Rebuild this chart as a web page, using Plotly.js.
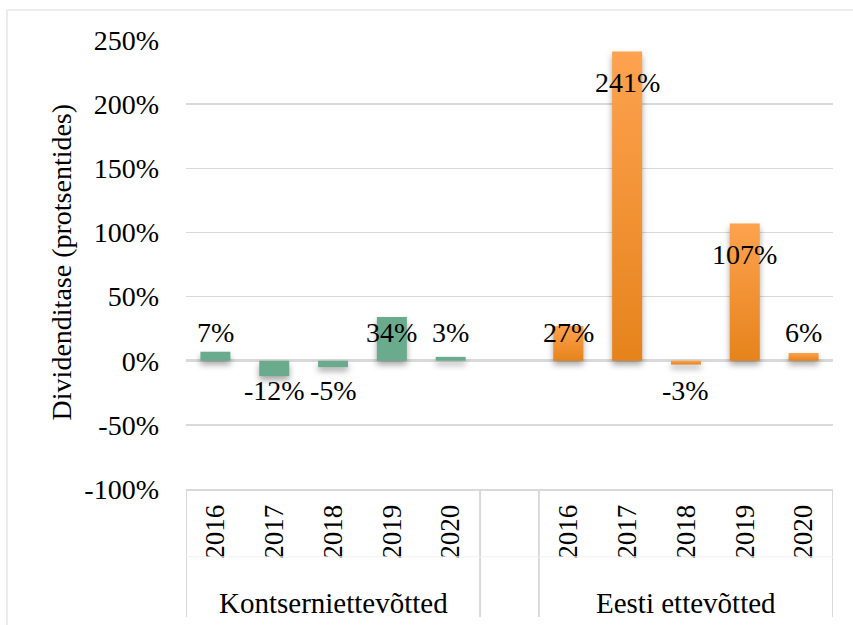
<!DOCTYPE html>
<html>
<head>
<meta charset="utf-8">
<script src="https://cdn.plot.ly/plotly-3.0.1.min.js"></script>
<style>
html,body{margin:0;padding:0;background:#fff;}
#chart{width:853px;height:625px;}
</style>
</head>
<body>
<div id="chart"></div>
<script>
const years = ["2016", "2017", "2018", "2019", "2020"];
const groupNames = ["Kontserniettevõtted", "Eesti ettevõtted"];
const kontsernValues = [7, -12, -5, 34, 3];
const eestiValues = [27, 241, -3, 107, 6];
const yTickVals = [-100, -50, 0, 50, 100, 150, 200, 250];
const yTickText = ["-100%", "-50%", "0%", "50%", "100%", "150%", "200%", "250%"];
const yTitle = "Dividenditase (protsentides)";

const FONT = "Liberation Serif";
const GREEN = "#6aab8e";
const ORANGE = "#f5912c";
const LINE = "#d9d9d9";

const xK = years.map((_, i) => i);
const xE = years.map((_, i) => i + 6);

const traces = [
  {type: "bar", x: xK, y: kontsernValues, width: 0.51,
   marker: {color: GREEN}, hoverinfo: "none", showlegend: false},
  {type: "bar", x: xE, y: eestiValues, width: 0.51,
   marker: {color: ORANGE}, hoverinfo: "none", showlegend: false}
];

function labelY(v) { return v > 0 ? Math.max(v - 24, 22) : Math.min(v - 11, -23); }

const LBL = {family: FONT, size: 28, color: "#000"};
const annotations = [];
kontsernValues.forEach((v, i) => annotations.push({
  x: xK[i], y: labelY(v), xref: "x", yref: "y", text: v + "%", showarrow: false,
  xanchor: "center", yanchor: "middle", font: LBL
}));
eestiValues.forEach((v, i) => annotations.push({
  x: xE[i], y: labelY(v), xref: "x", yref: "y", text: v + "%", showarrow: false,
  xanchor: "center", yanchor: "middle", font: LBL
}));
annotations.push({x: 2, y: -0.254, xref: "x", yref: "paper", text: groupNames[0],
  xanchor: "center", yanchor: "middle", showarrow: false,
  font: {family: FONT, size: 29, color: "#000"}});
annotations.push({x: 8, y: -0.254, xref: "x", yref: "paper", text: groupNames[1],
  xanchor: "center", yanchor: "middle", showarrow: false,
  font: {family: FONT, size: 29, color: "#000"}});
annotations.push({x: -0.193, y: 0.505, xref: "paper", yref: "paper", text: yTitle,
  xanchor: "center", yanchor: "middle", textangle: -90, showarrow: false,
  font: {family: FONT, size: 28, color: "#000"}});

const sepX = [-0.5, 4.5, 5.5, 10.5];
const shapes = sepX.map(x => ({type: "line", xref: "x", yref: "paper",
  x0: x, x1: x, y0: 0, y1: -0.285, line: {color: LINE, width: 2}}));
shapes.push({type: "line", xref: "x", yref: "paper", x0: -0.5, x1: 10.5,
  y0: -0.151, y1: -0.151, line: {color: "#f0f0f0", width: 1}});
shapes.push({type: "rect", xref: "paper", yref: "paper", x0: -0.2767, x1: 1.1,
  y0: -0.4, y1: 1.0668, line: {color: LINE, width: 1}, fillcolor: "rgba(0,0,0,0)"});

const layout = {
  width: 853, height: 625,
  margin: {l: 186, r: 20, t: 40, b: 136},
  paper_bgcolor: "#fff", plot_bgcolor: "#fff",
  font: {family: FONT, size: 28, color: "#000"},
  xaxis: {
    range: [-0.5, 10.5], tickmode: "array",
    tickvals: xK.concat(xE), ticktext: years.concat(years),
    tickangle: -90, ticks: "", showgrid: false, zeroline: false,
    showline: true, linecolor: LINE, linewidth: 2,
    tickfont: {family: FONT, size: 27, color: "#000"},
    ticklabelstandoff: 3, fixedrange: true
  },
  yaxis: {
    range: [-100, 250], tickmode: "array", tickvals: yTickVals, ticktext: yTickText,
    showgrid: true, gridcolor: LINE, gridwidth: 1.5,
    zeroline: true, zerolinecolor: LINE, zerolinewidth: 2.5,
    showline: false, ticks: "",
    tickfont: {family: FONT, size: 28, color: "#000"},
    ticklabelstandoff: 26, fixedrange: true
  },
  annotations: annotations,
  shapes: shapes
};

Plotly.newPlot("chart", traces, layout, {displayModeBar: false, staticPlot: true}).then(gd => {
  const ns = "http://www.w3.org/2000/svg";
  const svg = gd.querySelector("svg.main-svg");
  let defs = svg.querySelector("defs");
  if (!defs) { defs = document.createElementNS(ns, "defs"); svg.insertBefore(defs, svg.firstChild); }
  const lg = document.createElementNS(ns, "linearGradient");
  lg.setAttribute("id", "orangeGrad");
  lg.setAttribute("x1", "0"); lg.setAttribute("y1", "0");
  lg.setAttribute("x2", "0"); lg.setAttribute("y2", "1");
  [["0%", "#fda24f"], ["100%", "#e6831b"]].forEach(([o, c]) => {
    const s = document.createElementNS(ns, "stop");
    s.setAttribute("offset", o); s.setAttribute("stop-color", c);
    lg.appendChild(s);
  });
  defs.appendChild(lg);
  const barTraces = gd.querySelectorAll("g.trace.bars");
  barTraces.forEach((t, ti) => {
    t.querySelectorAll("path").forEach(p => {
      if (ti === 1) p.style.fill = "url(#orangeGrad)";
      p.style.filter = "drop-shadow(0px 4px 3px rgba(0,0,0,0.35))";
    });
  });
});
</script>
</body>
</html>
